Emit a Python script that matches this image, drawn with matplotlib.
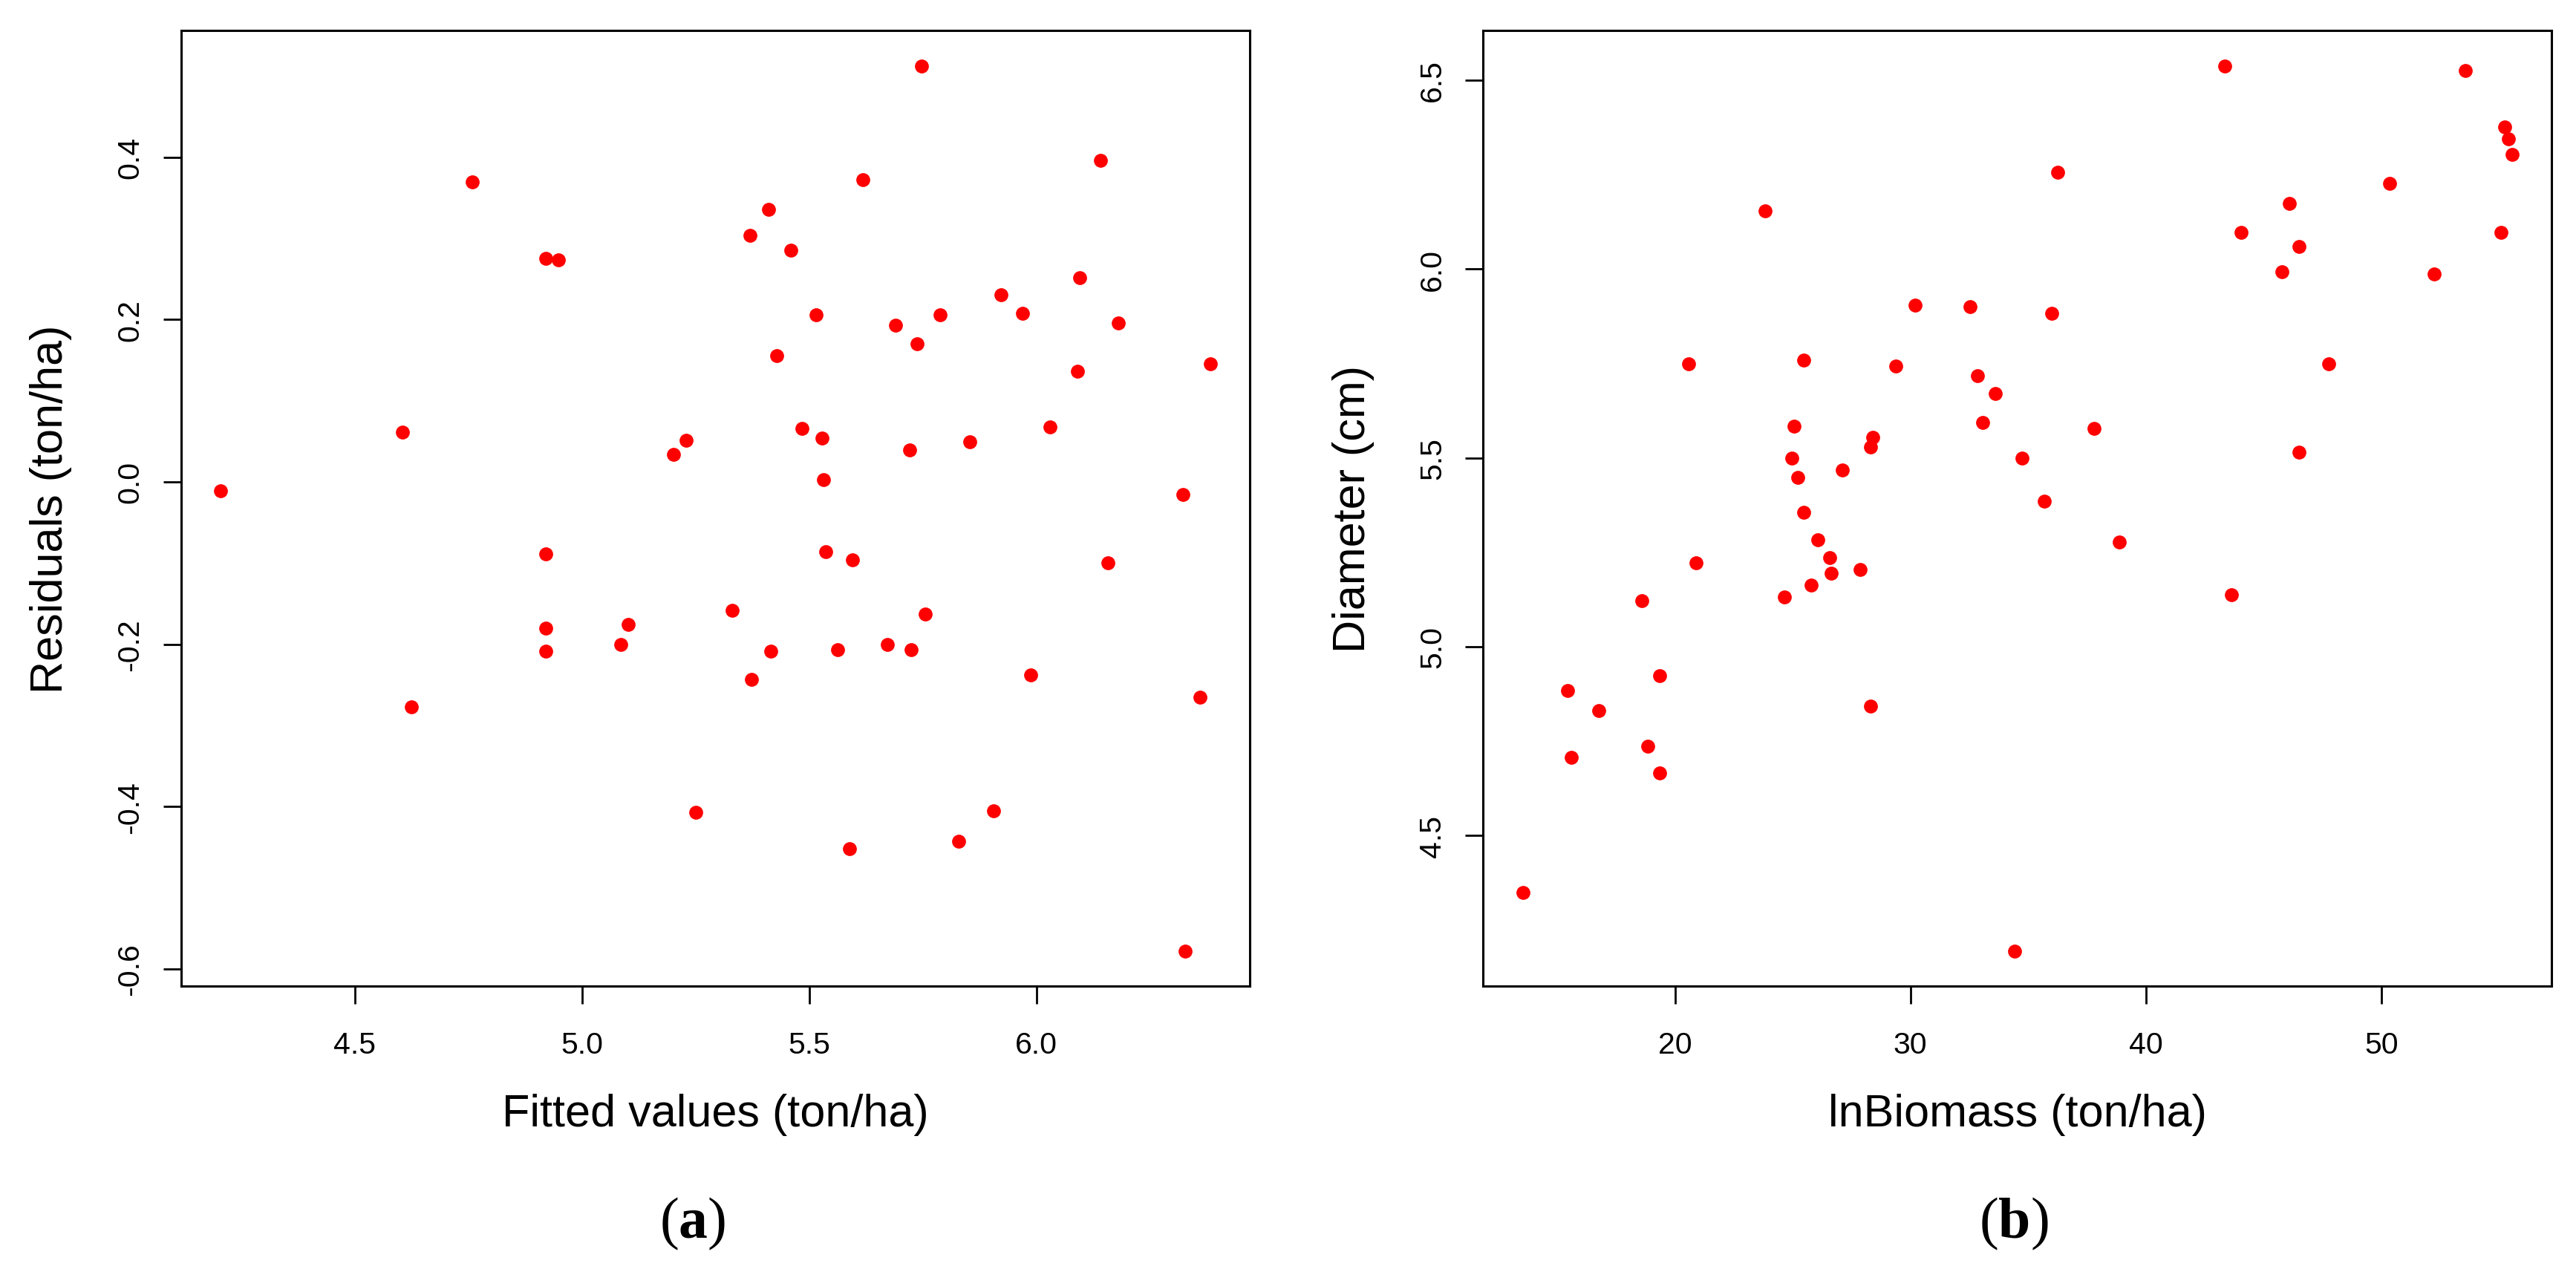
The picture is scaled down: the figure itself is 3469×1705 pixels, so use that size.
import numpy as np
import matplotlib
matplotlib.use("Agg")
import matplotlib.pyplot as plt

plt.rcParams['font.family'] = ['Liberation Sans', 'DejaVu Sans']
plt.rcParams['mathtext.fontset'] = 'custom'
plt.rcParams['mathtext.rm'] = 'Liberation Serif'
plt.rcParams['mathtext.bf'] = 'Liberation Serif:bold'

# (a) residuals vs fitted
fitted = [4.758, 4.921, 4.948, 4.604, 5.201, 5.229, 4.204, 5.747, 6.142, 5.618,
          5.411, 5.369, 5.459, 6.095, 5.923, 5.515, 5.789, 5.969, 5.690, 6.181,
          5.737, 5.429, 6.383, 6.090, 6.030, 5.485, 5.528, 5.721, 5.854, 5.532,
          6.322, 4.921, 4.921, 4.921, 5.102, 5.085, 5.331, 4.625, 5.251, 5.536,
          5.596, 6.158, 5.755, 5.416, 5.563, 5.673, 5.725, 5.373, 5.987, 6.361,
          5.906, 5.829, 5.589, 6.327]
residuals = [0.369, 0.275, 0.273, 0.061, 0.034, 0.051, -0.011, 0.512, 0.396, 0.372,
             0.336, 0.304, 0.285, 0.251, 0.230, 0.206, 0.206, 0.208, 0.193, 0.196,
             0.170, 0.155, 0.145, 0.136, 0.068, 0.066, 0.054, 0.039, 0.049, 0.003,
             -0.016, -0.089, -0.180, -0.209, -0.176, -0.200, -0.158, -0.277, -0.407, -0.086,
             -0.096, -0.100, -0.163, -0.209, -0.207, -0.200, -0.207, -0.243, -0.238, -0.265,
             -0.405, -0.443, -0.452, -0.578]

# (b) diameter vs biomass
biomass = [23.82, 20.58, 25.46, 29.37, 30.20, 32.52, 32.86, 33.59, 33.08, 34.75,
           25.06, 28.39, 28.29, 24.97, 27.12, 25.22, 25.46, 26.06, 26.56, 26.64,
           27.87, 25.79, 24.65, 20.90, 18.59, 35.67, 19.34, 15.44, 16.77, 28.29,
           18.84, 15.61, 19.34, 13.54, 34.42, 43.36, 53.57, 55.22, 55.38, 55.54,
           36.25, 50.34, 46.10, 44.04, 55.06, 46.51, 45.77, 52.23, 36.01, 47.77,
           37.81, 46.51, 38.88, 43.62]
diameter = [6.153, 5.749, 5.759, 5.743, 5.904, 5.900, 5.718, 5.671, 5.593, 5.500,
            5.583, 5.554, 5.529, 5.500, 5.468, 5.448, 5.355, 5.282, 5.236, 5.194,
            5.204, 5.163, 5.131, 5.221, 5.121, 5.385, 4.924, 4.883, 4.831, 4.842,
            4.737, 4.707, 4.665, 4.349, 4.194, 6.537, 6.526, 6.376, 6.344, 6.303,
            6.257, 6.226, 6.174, 6.096, 6.096, 6.060, 5.992, 5.987, 5.883, 5.749,
            5.578, 5.515, 5.277, 5.137]

xticks_a = [4.5, 5.0, 5.5, 6.0]
yticks_a = [-0.6, -0.4, -0.2, 0.0, 0.2, 0.4]
xticks_b = [20, 30, 40, 50]
yticks_b = [4.5, 5.0, 5.5, 6.0, 6.5]


def r_lim(v):
    # zakres jak w R: +4% z kazdej strony
    lo, hi = min(v), max(v)
    d = 0.04 * (hi - lo)
    return lo - d, hi + d


def panel(ax, x, y, xt, yt, xfmt, yfmt, xlab, ylab, tag, tag_x):
    ax.plot(x, y, 'o', color='#ff0000', ms=13.5, mec='none')
    ax.set_xlim(*r_lim(x))
    ax.set_ylim(*r_lim(y))
    ax.set_xticks(xt)
    ax.set_xticklabels([xfmt.format(v) for v in xt])
    ax.set_yticks(yt)
    ax.set_yticklabels([yfmt.format(v) for v in yt], rotation=90, va='center')
    ax.tick_params(axis='both', direction='out', length=17.5, width=2.0,
                   labelsize=29.5, colors='black')
    ax.tick_params(axis='x', pad=25)
    ax.tick_params(axis='y', pad=18)
    for s in ax.spines.values():
        s.set_linewidth(2.2)
    ax.set_xlabel(xlab, fontsize=44, va='center')
    ax.xaxis.set_label_coords(0.5, -0.1338)
    ax.set_ylabel(ylab, fontsize=44, va='center')
    ax.yaxis.set_label_coords(-0.1213, 0.5)
    fig.text(tag_x, 1 - 1648 / 1706, tag, fontsize=56, family='Liberation Serif',
             ha='center', va='center')


fig = plt.figure(figsize=(34.69, 17.06), dpi=100)
ax1 = fig.add_axes([0.0702, 0.2207, 0.4150, 0.7544])
ax2 = fig.add_axes([0.5758, 0.2207, 0.4147, 0.7544])

panel(ax1, fitted, residuals, xticks_a, yticks_a, '{:.1f}', '{:.1f}',
      'Fitted values (ton/ha)', 'Residuals (ton/ha)', r'($\mathbf{a}$)', 933 / 3469)
panel(ax2, biomass, diameter, xticks_b, yticks_b, '{:.0f}', '{:.1f}',
      'lnBiomass (ton/ha)', 'Diameter (cm)', r'($\mathbf{b}$)', 2712 / 3469)

plt.savefig('out.png', dpi=100, facecolor='white')
